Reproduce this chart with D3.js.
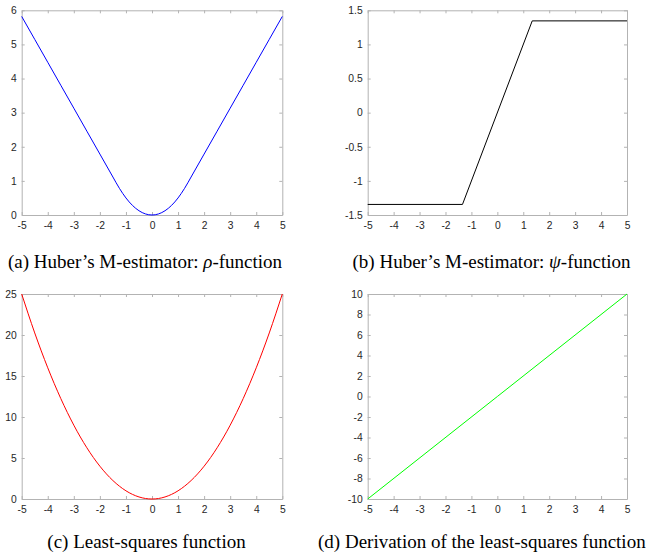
<!DOCTYPE html>
<html>
<head>
<meta charset="utf-8">
<script src="https://cdn.jsdelivr.net/npm/d3@7"></script>
<style>
  body { margin: 0; background: #fff; }
  .tick text { font-family: "Liberation Sans", Arial, sans-serif; font-size: 10.3px; fill: #262626; }
  .caption { font-family: "Liberation Serif", "Times New Roman", serif; font-size: 19px; fill: #000; }
</style>
</head>
<body>
<script>
// values
const xTicks = [-5, -4, -3, -2, -1, 0, 1, 2, 3, 4, 5];

const rhoX = [-5, -4.5, -4, -3.5, -3, -2.5, -2, -1.5, -1.25, -1, -0.75, -0.5, -0.25, 0, 0.25, 0.5, 0.75, 1, 1.25, 1.5, 2, 2.5, 3, 3.5, 4, 4.5, 5];
const rhoY = [5.82, 5.148, 4.476, 3.803, 3.131, 2.458, 1.786, 1.113, 0.781, 0.5, 0.281, 0.125, 0.031, 0, 0.031, 0.125, 0.281, 0.5, 0.781, 1.113, 1.786, 2.458, 3.131, 3.803, 4.476, 5.148, 5.82];
const rhoTicks = [0, 1, 2, 3, 4, 5, 6];

const psiX = [-5, -1.345, 1.345, 5];
const psiY = [-1.345, -1.345, 1.345, 1.345];
const psiTicks = [-1.5, -1, -0.5, 0, 0.5, 1, 1.5];

const lsX = [-5, -4.5, -4, -3.5, -3, -2.5, -2, -1.5, -1, -0.5, 0, 0.5, 1, 1.5, 2, 2.5, 3, 3.5, 4, 4.5, 5];
const lsY = [25, 20.25, 16, 12.25, 9, 6.25, 4, 2.25, 1, 0.25, 0, 0.25, 1, 2.25, 4, 6.25, 9, 12.25, 16, 20.25, 25];
const lsTicks = [0, 5, 10, 15, 20, 25];

const dX = [-5, 0, 5];
const dY = [-10, 0, 10];
const dTicks = [-10, -8, -6, -4, -2, 0, 2, 4, 6, 8, 10];

const captions = [
  ["(a) Huber\u2019s M-estimator: ", "\u03c1", "-function"],
  ["(b) Huber\u2019s M-estimator: ", "\u03c8", "-function"],
  ["(c) Least-squares function", "", ""],
  ["(d) Derivation of the least-squares function", "", ""]
];

const width = 654, height = 556;
const svg = d3.select("body").append("svg")
  .attr("width", width)
  .attr("height", height);

const panels = [
  { xs: rhoX, ys: rhoY, yDom: [0, 6], yTicks: rhoTicks, color: "#0000ff", curve: d3.curveMonotoneX,
    left: 21.7, right: 282.3, top: 10.3, bottom: 215, cap: captions[0], capX: 145, capY: 268, anchor: "middle" },
  { xs: psiX, ys: psiY, yDom: [-1.5, 1.5], yTicks: psiTicks, color: "#000000", curve: d3.curveLinear,
    left: 367.7, right: 627, top: 10.3, bottom: 215, cap: captions[1], capX: 491.5, capY: 268, anchor: "middle" },
  { xs: lsX, ys: lsY, yDom: [0, 25], yTicks: lsTicks, color: "#ff0000", curve: d3.curveMonotoneX,
    left: 21.7, right: 282.3, top: 294, bottom: 499, cap: captions[2], capX: 146.5, capY: 548, anchor: "middle" },
  { xs: dX, ys: dY, yDom: [-10, 10], yTicks: dTicks, color: "#00ff00", curve: d3.curveLinear,
    left: 367.7, right: 627, top: 294, bottom: 499, cap: captions[3], capX: 318, capY: 548, anchor: "start" }
];

const boxColor = "#b3b3b3";

panels.forEach(p => {
  const x = d3.scaleLinear().domain([-5, 5]).range([p.left, p.right]);
  const y = d3.scaleLinear().domain(p.yDom).range([p.bottom, p.top]);
  const g = svg.append("g");

  const styleAxis = sel => {
    sel.select(".domain").attr("stroke", boxColor);
    sel.selectAll(".tick line").attr("stroke", boxColor);
  };

  g.append("g")
    .attr("transform", `translate(0,${p.bottom})`)
    .call(d3.axisBottom(x).tickValues(xTicks).tickSizeInner(-3).tickSizeOuter(0).tickPadding(6.5).tickFormat(d => String(d)))
    .call(styleAxis);
  g.append("g")
    .attr("transform", `translate(0,${p.top})`)
    .call(d3.axisTop(x).tickValues(xTicks).tickSizeInner(-3).tickSizeOuter(0).tickFormat(() => ""))
    .call(styleAxis);
  g.append("g")
    .attr("transform", `translate(${p.left},0)`)
    .call(d3.axisLeft(y).tickValues(p.yTicks).tickSizeInner(-3).tickSizeOuter(0).tickPadding(5).tickFormat(d => String(d)))
    .call(styleAxis);
  g.append("g")
    .attr("transform", `translate(${p.right},0)`)
    .call(d3.axisRight(y).tickValues(p.yTicks).tickSizeInner(-3).tickSizeOuter(0).tickFormat(() => ""))
    .call(styleAxis);

  g.selectAll(".tick text").attr("fill", "#262626");

  const pts = p.xs.map((v, i) => [v, p.ys[i]]);
  const line = d3.line().x(d => x(d[0])).y(d => y(d[1])).curve(p.curve);
  g.append("path")
    .datum(pts)
    .attr("fill", "none")
    .attr("stroke", p.color)
    .attr("stroke-width", 1)
    .attr("d", line);

  const t = svg.append("text")
    .attr("class", "caption")
    .attr("x", p.capX)
    .attr("y", p.capY)
    .attr("text-anchor", p.anchor);
  t.append("tspan").text(p.cap[0]);
  if (p.cap[1]) t.append("tspan").attr("font-style", "italic").text(p.cap[1]);
  if (p.cap[2]) t.append("tspan").text(p.cap[2]);
});
</script>
</body>
</html>
